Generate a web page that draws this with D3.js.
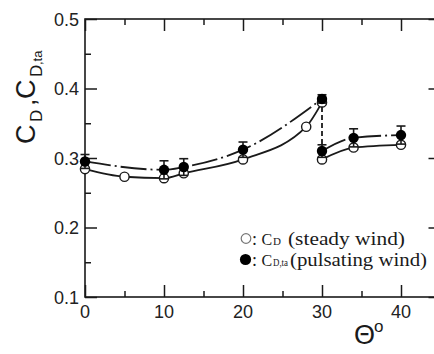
<!DOCTYPE html>
<html>
<head>
<meta charset="utf-8">
<script src="https://cdn.jsdelivr.net/npm/d3@7"></script>
<style>
  html, body { margin: 0; padding: 0; background: #fff; }
  svg { display: block; }
  .serif { font-family: "Liberation Serif", "Times New Roman", serif; }
</style>
</head>
<body>
<svg id="chart" width="434" height="354"></svg>
<script>
// Drag coefficient vs. yaw angle: steady wind (C_D) and pulsating wind (C_D,ta)
const thetaSteadyA = [0, 5, 10, 12.5, 20, 28, 30];
const cdSteadyA    = [0.284, 0.273, 0.271, 0.278, 0.298, 0.345, 0.380];
const thetaSteadyB = [30, 34, 40];
const cdSteadyB    = [0.298, 0.315, 0.319];

const thetaPulseA  = [0, 10, 12.5, 20, 30];
const cdPulseA     = [0.295, 0.283, 0.287, 0.312, 0.385];
const errPulseA    = [0.010, 0.013, 0.012, 0.011, 0.006];
const thetaPulseB  = [30, 34, 40];
const cdPulseB     = [0.310, 0.329, 0.333];
const errPulseB    = [0.009, 0.013, 0.013];

const xMajorTicks = [0, 10, 20, 30, 40];
const xMinorTicks = [5, 15, 25, 35];
const yMajorTicks = [0.1, 0.2, 0.3, 0.4, 0.5];
const yMinorTicks = [0.15, 0.25, 0.35, 0.45];

const svg = d3.select("#chart");
const plotLeft = 85, plotRight = 440.5, plotTop = 19, plotBottom = 297;

const x = d3.scaleLinear().domain([0, 45]).range([plotLeft, plotRight]);
const y = d3.scaleLinear().domain([0.1, 0.5]).range([plotBottom, plotTop]);

const ink = "#1a1a1a";
const sans = "'Liberation Sans', Arial, sans-serif";

// frame with inward ticks on all four sides
function styleAxis(g) {
  g.select(".domain").remove();
  g.selectAll("line").attr("stroke", ink).attr("stroke-width", 1.5);
  g.selectAll("text").remove();
}
const axes = [
  [() => d3.axisBottom(x), `translate(0,${plotBottom})`, xMajorTicks, xMinorTicks],
  [() => d3.axisTop(x), `translate(0,${plotTop})`, xMajorTicks, xMinorTicks],
  [() => d3.axisLeft(y), `translate(${plotLeft},0)`, yMajorTicks, yMinorTicks],
  [() => d3.axisRight(y), `translate(${plotRight},0)`, yMajorTicks, yMinorTicks]
];
axes.forEach(([mk, tr, major, minor]) => {
  svg.append("g").attr("transform", tr)
    .call(mk().tickValues(major).tickSize(-12).tickFormat(""))
    .call(styleAxis);
  svg.append("g").attr("transform", tr)
    .call(mk().tickValues(minor).tickSize(-6).tickFormat(""))
    .call(styleAxis);
});

svg.append("rect")
  .attr("x", plotLeft).attr("y", plotTop)
  .attr("width", plotRight - plotLeft).attr("height", plotBottom - plotTop)
  .attr("fill", "none").attr("stroke", ink).attr("stroke-width", 1.6);

// tick labels
svg.append("g").selectAll("text").data(xMajorTicks).join("text")
  .attr("x", d => x(d)).attr("y", 318)
  .attr("text-anchor", "middle")
  .attr("font-family", sans).attr("font-size", 18).attr("fill", "#222")
  .text(d => d);
svg.append("g").selectAll("text").data(yMajorTicks).join("text")
  .attr("x", 79).attr("y", d => y(d) + 6.5)
  .attr("text-anchor", "end")
  .attr("font-family", sans).attr("font-size", 18).attr("fill", "#222")
  .text(d => d3.format(".1f")(d));

// axis titles
const yTitle = svg.append("text")
  .attr("transform", "rotate(-90)")
  .attr("font-family", sans).attr("fill", ink);
yTitle.append("tspan").attr("x", -144).attr("y", 35).attr("font-size", 27).text("C");
yTitle.append("tspan").attr("x", -122).attr("y", 42).attr("font-size", 17).text("D");
yTitle.append("tspan").attr("x", -106).attr("y", 35).attr("font-size", 26).text(",");
yTitle.append("tspan").attr("x", -99).attr("y", 35).attr("font-size", 27).text("C");
yTitle.append("tspan").attr("x", -77).attr("y", 42).attr("font-size", 17).text("D");
yTitle.append("tspan").attr("x", -65).attr("y", 42).attr("font-size", 13).text(",ta");

const xTitle = svg.append("text").attr("font-family", sans).attr("fill", ink);
xTitle.append("tspan").attr("x", 354).attr("y", 344).attr("font-size", 27).text("Θ");
xTitle.append("tspan").attr("x", 374).attr("y", 332).attr("font-size", 17).text("o");

// curves
const toPts = (xs, ys) => xs.map((t, i) => [t, ys[i]]);
const line = d3.line().x(d => x(d[0])).y(d => y(d[1])).curve(d3.curveMonotoneX);
const dashDot = "26,4,2,4";

svg.append("path").datum(toPts(thetaSteadyA, cdSteadyA))
  .attr("d", line).attr("fill", "none").attr("stroke", ink).attr("stroke-width", 1.8);
svg.append("path").datum(toPts(thetaSteadyB, cdSteadyB))
  .attr("d", line).attr("fill", "none").attr("stroke", ink).attr("stroke-width", 1.8);
svg.append("path").datum(toPts(thetaPulseA, cdPulseA))
  .attr("d", line).attr("fill", "none").attr("stroke", ink).attr("stroke-width", 1.8)
  .attr("stroke-dasharray", dashDot);
svg.append("path").datum(toPts(thetaPulseB, cdPulseB))
  .attr("d", line).attr("fill", "none").attr("stroke", ink).attr("stroke-width", 1.8)
  .attr("stroke-dasharray", dashDot);

// jump at 30 degrees
svg.append("line")
  .attr("x1", x(30)).attr("x2", x(30))
  .attr("y1", y(cdPulseA[cdPulseA.length - 1])).attr("y2", y(cdPulseB[0]))
  .attr("stroke", ink).attr("stroke-width", 1.8).attr("stroke-dasharray", "5,3");

// steady markers
const steadyPts = toPts(thetaSteadyA, cdSteadyA).concat(toPts(thetaSteadyB, cdSteadyB));
svg.append("g").selectAll("circle").data(steadyPts).join("circle")
  .attr("cx", d => x(d[0])).attr("cy", d => y(d[1])).attr("r", 4.6)
  .attr("fill", "#fff").attr("stroke", ink).attr("stroke-width", 1.4);

// pulsating error bars and markers
const pulse = thetaPulseA.map((t, i) => ({ t, v: cdPulseA[i], e: errPulseA[i] }))
  .concat(thetaPulseB.map((t, i) => ({ t, v: cdPulseB[i], e: errPulseB[i] })));
const eb = svg.append("g").attr("stroke", ink).attr("stroke-width", 1.6);
pulse.forEach(p => {
  const cx = x(p.t), y0 = y(p.v - p.e), y1 = y(p.v + p.e);
  eb.append("line").attr("x1", cx).attr("x2", cx).attr("y1", y0).attr("y2", y1);
  eb.append("line").attr("x1", cx - 4.5).attr("x2", cx + 4.5).attr("y1", y1).attr("y2", y1);
  eb.append("line").attr("x1", cx - 4.5).attr("x2", cx + 4.5).attr("y1", y0).attr("y2", y0);
});
svg.append("g").selectAll("circle").data(pulse).join("circle")
  .attr("cx", d => x(d.t)).attr("cy", d => y(d.v)).attr("r", 5.2)
  .attr("fill", "#000");

// legend
const legend = svg.append("g").attr("fill", ink);
legend.append("circle").attr("cx", 246).attr("cy", 238.5).attr("r", 4.8)
  .attr("fill", "#fff").attr("stroke", "#777").attr("stroke-width", 1.2);
legend.append("circle").attr("cx", 245.5).attr("cy", 259.5).attr("r", 5.6).attr("fill", "#000");

function legendText(px, py, size, str, len) {
  const t = legend.append("text").attr("class", "serif")
    .attr("x", px).attr("y", py).attr("font-size", size).text(str);
  if (len) t.attr("textLength", len).attr("lengthAdjust", "spacingAndGlyphs");
  return t;
}
legendText(252, 245, 18, ":");
legendText(261.5, 245, 16, "C");
legendText(273, 245, 11, "D");
legendText(288, 245, 18, "(steady wind)", 117);

legendText(252, 266, 18, ":");
legendText(261.5, 266, 16, "C");
legendText(273, 266, 10.5, "D,ta", 15);
legendText(290, 266, 18, "(pulsating wind)", 137);
</script>
</body>
</html>
